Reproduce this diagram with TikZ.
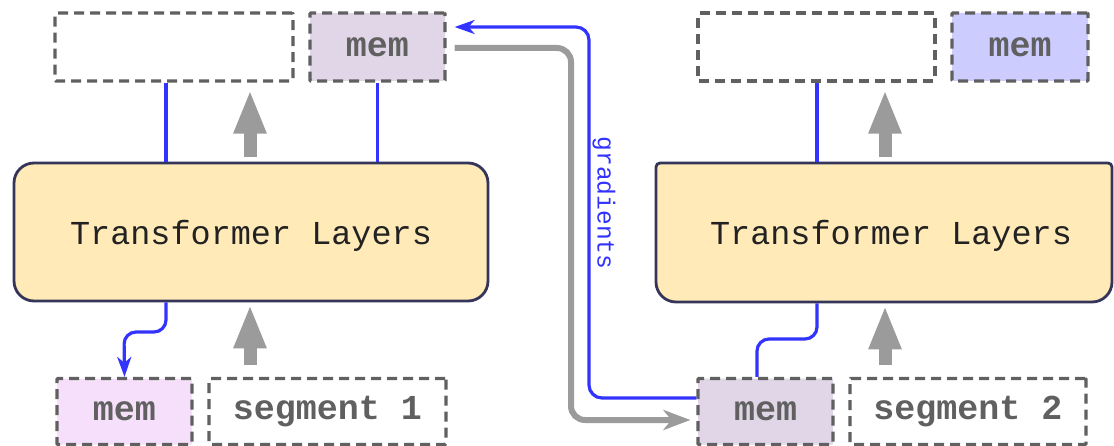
\documentclass[tikz,border=0pt]{standalone}
\usepackage{fontspec}
\newfontfamily\monof{Liberation Mono}
\usetikzlibrary{arrows.meta,calc,backgrounds}
\definecolor{dgray}{HTML}{606060}
\definecolor{agray}{HTML}{9B9B9B}
\definecolor{bblue}{HTML}{3333FF}
\definecolor{navy}{HTML}{35355A}
\definecolor{tyellow}{HTML}{FFEAB8}
\definecolor{tblack}{HTML}{222222}
\definecolor{memA}{HTML}{E1D6E7}
\definecolor{memB}{HTML}{F5DFFA}
\definecolor{memC}{HTML}{CCCCFF}
\begin{document}
\begin{tikzpicture}[x=1pt,y=-1pt,
  dbox/.style={draw=dgray, line width=3.2pt, dash pattern=on 10pt off 6pt,
    minimum height=68pt, inner sep=0pt, rounded corners=1pt,
    font=\monof\bfseries\fontsize{35}{40}\selectfont, text=dgray},
  tlayer/.style={line width=2.8pt, inner sep=0pt, text depth=0pt,
    font=\monof\fontsize{33.5}{40}\selectfont, text=tblack},
  tbox/.style={draw=navy, fill=tyellow, line width=2.8pt},
  bline/.style={draw=bblue, line width=3.2pt},
  barrow/.style={bline, -{Stealth[length=20pt,width=14pt,inset=6pt]}},
  bigarrow/.style={draw=agray, line width=13pt, -{Triangle[length=44pt,width=30pt]}},
  garrow/.style={draw=agray, line width=6pt, -{Stealth[length=27pt,width=20pt,inset=8pt]}},
  lbl/.style={font=\monof\fontsize{24.6}{28}\selectfont, text=bblue}
]
\useasboundingbox (0,0) rectangle (1114,446);

% x positions
\coordinate (x165) at (166,0);
\coordinate (x250) at (250,0);
\coordinate (x757) at (757,0);
\coordinate (x817) at (817,0);
\coordinate (x885) at (885,0);
\coordinate (c1) at (124,332);
\coordinate (c2) at (817,339);
\coordinate (g1) at (589,27);
\coordinate (g2) at (571,420);

% left column
\node[dbox, minimum width=238pt] (A1) at (174,47) {};
\node[dbox, minimum width=135pt, fill=memA] (M1) at (377.5,47) {mem};
\node[tlayer, draw=navy, fill=tyellow, rounded corners=20pt, minimum width=474pt, minimum height=138pt] (T1) at (251,232) {Transformer Layers};
\node[dbox, minimum width=135pt, minimum height=66pt, fill=memB] (M0) at (124.5,411.5) {mem};
\node[dbox, minimum width=237pt, minimum height=66pt] (S1) at (327.5,411.5) {segment 1};

% right column
\node[dbox, minimum width=237pt] (A2) at (816.5,47) {};
\node[dbox, minimum width=136pt, fill=memC] (M2) at (1020,47) {mem};
\node[tlayer, minimum width=470pt, minimum height=139pt] (T2) at (891,232.5) {Transformer Layers};
\begin{scope}[on background layer]
\path[tbox] (1112,232) [rounded corners=4pt] -- (1112,163) -- (656,163) [rounded corners=20pt] -- (656,302) -- (1112,302) [rounded corners=4pt] -- cycle;
\end{scope}
\node[dbox, minimum width=135pt, minimum height=66pt, fill=memA] (M3) at (765.5,411.5) {mem};
\node[dbox, minimum width=236pt, minimum height=66pt] (S2) at (968,411.5) {segment 2};

% left connectors
\draw[bline] (T1.north -| x165) -- (A1.south -| x165);
\draw[bline] (T1.north -| M1.south) -- (M1.south);
\draw[bigarrow] ($(T1.north -| x250)+(0,-5)$) -- ($(A1.south -| x250)+(0,7)$);
\draw[barrow, rounded corners=12pt] (T1.south -| x165) |- (c1) -- (M0.north);
\draw[bigarrow] ($(S1.north -| x250)+(0,-12)$) -- ($(T1.south -| x250)+(0,2)$);

% right connectors
\draw[bline] (T2.north -| x817) -- (A2.south -| x817);
\draw[bigarrow] ($(T2.north -| x885)+(0,-5)$) -- ($(A2.south -| x885)+(0,7)$);
\draw[bline, rounded corners=12pt] (M3.north -| x757) |- (c2) -- (T2.south -| x817);
\draw[bigarrow] ($(S2.north -| x885)+(0,-12)$) -- ($(T2.south -| x885)+(0,2)$);

% gradients / memory transfer
\draw[barrow, rounded corners=13pt] ($(M3.west)+(0,-13.5)$) -| (g1) -- ($(M1.east)+(8,-20)$);
\draw[garrow, rounded corners=14pt] ($(M1.east)+(8,1)$) -| (g2) -- ($(M3.west)+(-6,8.5)$);
\node[lbl, rotate=-90] (grad) at (604,203) {gradients};
\end{tikzpicture}
\end{document}
